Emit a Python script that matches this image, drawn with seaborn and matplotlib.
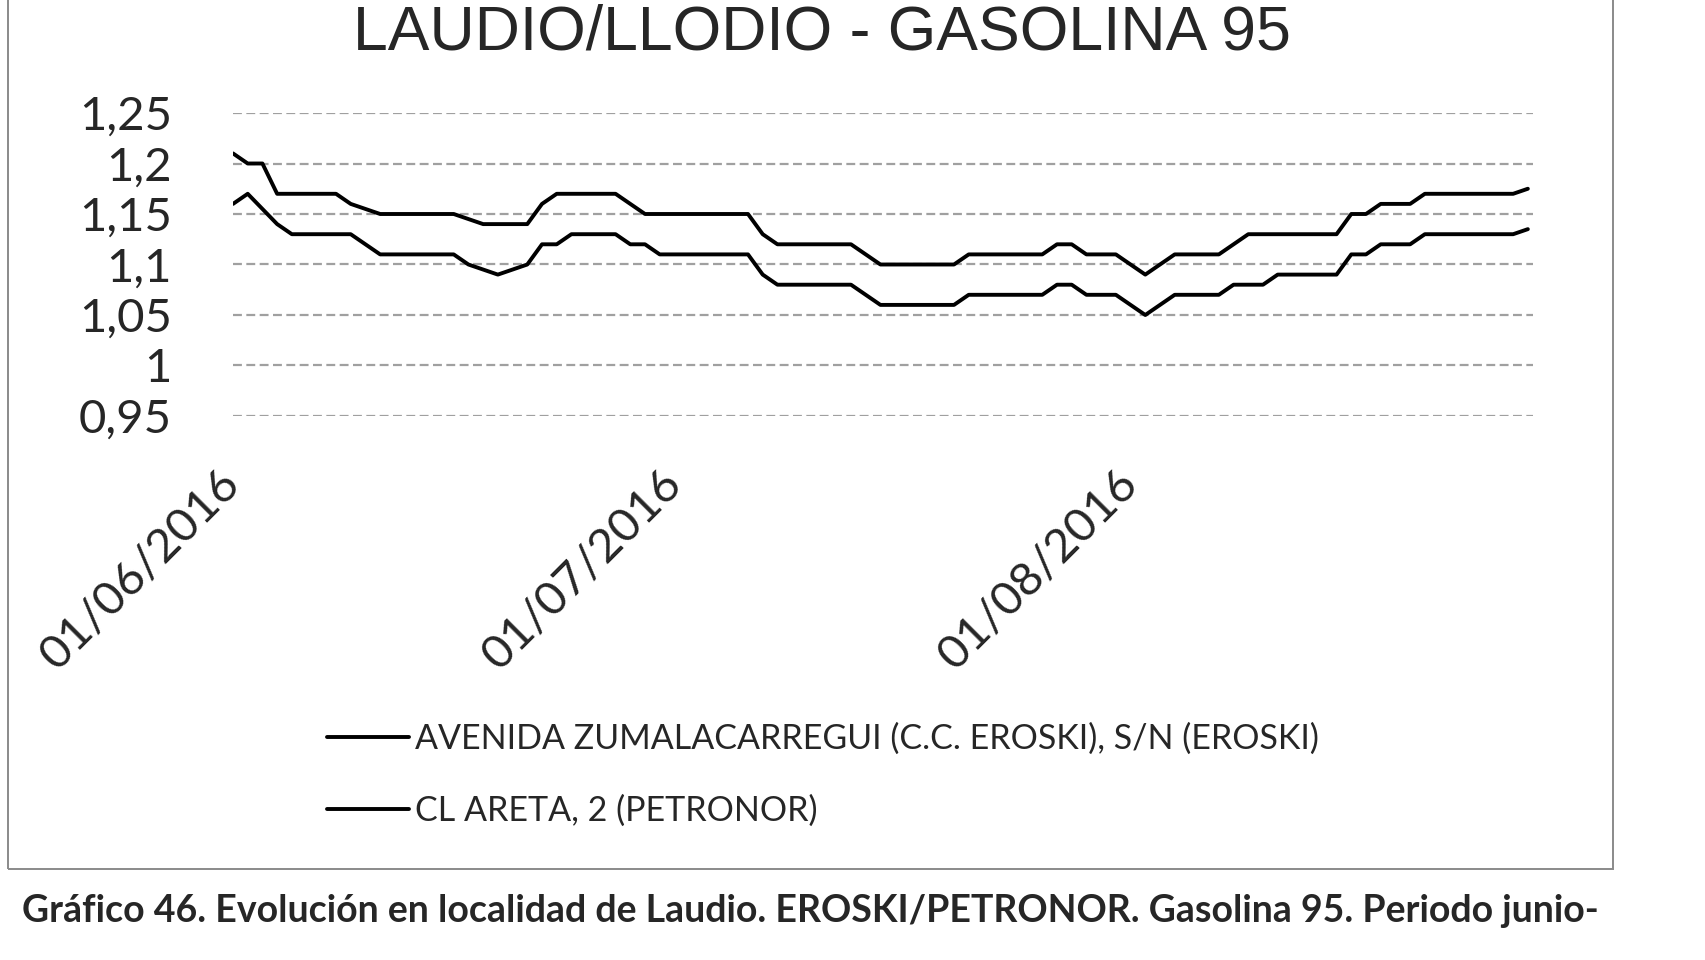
"""Laudio/Llodio - Gasolina 95 price evolution, June-August 2016."""

import matplotlib

matplotlib.use("Agg")
import matplotlib.pyplot as plt
import matplotlib.dates as mdates
import pandas as pd
import seaborn as sns
from matplotlib.patches import Rectangle

TITLE = "LAUDIO/LLODIO - GASOLINA 95"
CAPTION = ("Gráfico 46. Evolución en localidad de Laudio. EROSKI/PETRONOR. "
           "Gasolina 95. Periodo junio-")
SERIES_EROSKI = "AVENIDA ZUMALACARREGUI (C.C. EROSKI), S/N (EROSKI)"
SERIES_PETRONOR = "CL ARETA, 2 (PETRONOR)"

START_DATE = "2016-06-01"

# daily prices (1 Jun .. 28 Aug 2016)
PETRONOR_PRICES = [
    1.21, 1.20, 1.20, 1.17, 1.17, 1.17, 1.17, 1.17, 1.16, 1.155,
    1.15, 1.15, 1.15, 1.15, 1.15, 1.15, 1.145, 1.14, 1.14, 1.14,
    1.14, 1.16, 1.17, 1.17, 1.17, 1.17, 1.17, 1.16, 1.15, 1.15,
    1.15, 1.15, 1.15, 1.15, 1.15, 1.15, 1.13, 1.12, 1.12, 1.12,
    1.12, 1.12, 1.12, 1.11, 1.10, 1.10, 1.10, 1.10, 1.10, 1.10,
    1.11, 1.11, 1.11, 1.11, 1.11, 1.11, 1.12, 1.12, 1.11, 1.11,
    1.11, 1.10, 1.09, 1.10, 1.11, 1.11, 1.11, 1.11, 1.12, 1.13,
    1.13, 1.13, 1.13, 1.13, 1.13, 1.13, 1.15, 1.15, 1.16, 1.16,
    1.16, 1.17, 1.17, 1.17, 1.17, 1.17, 1.17, 1.17, 1.175,
]
EROSKI_PRICES = [
    1.16, 1.17, 1.155, 1.14, 1.13, 1.13, 1.13, 1.13, 1.13, 1.12,
    1.11, 1.11, 1.11, 1.11, 1.11, 1.11, 1.10, 1.095, 1.09, 1.095,
    1.10, 1.12, 1.12, 1.13, 1.13, 1.13, 1.13, 1.12, 1.12, 1.11,
    1.11, 1.11, 1.11, 1.11, 1.11, 1.11, 1.09, 1.08, 1.08, 1.08,
    1.08, 1.08, 1.08, 1.07, 1.06, 1.06, 1.06, 1.06, 1.06, 1.06,
    1.07, 1.07, 1.07, 1.07, 1.07, 1.07, 1.08, 1.08, 1.07, 1.07,
    1.07, 1.06, 1.05, 1.06, 1.07, 1.07, 1.07, 1.07, 1.08, 1.08,
    1.08, 1.09, 1.09, 1.09, 1.09, 1.09, 1.11, 1.11, 1.12, 1.12,
    1.12, 1.13, 1.13, 1.13, 1.13, 1.13, 1.13, 1.13, 1.135,
]

Y_TICKS = [0.95, 1.0, 1.05, 1.1, 1.15, 1.2, 1.25]
Y_TICK_LABELS = ["0,95", "1", "1,05", "1,1", "1,15", "1,2", "1,25"]
X_TICK_DATES = ["2016-06-01", "2016-07-01", "2016-08-01"]
X_TICK_LABELS = ["01/06/2016", "01/07/2016", "01/08/2016"]

W, H = 1706, 960

dates = pd.date_range(START_DATE, periods=len(EROSKI_PRICES), freq="D")
df = pd.DataFrame({"fecha": dates, "eroski": EROSKI_PRICES, "petronor": PETRONOR_PRICES})

sns.set_theme(style="white")
plt.rcParams["font.family"] = ["Lato", "DejaVu Sans"]

fig = plt.figure(figsize=(W / 100, H / 100), dpi=100)
ax = fig.add_axes([233 / W, 1 - 416 / H, 1300 / W, 303 / H])

sns.lineplot(data=df, x="fecha", y="eroski", ax=ax, color="black", linewidth=2.8,
             label=SERIES_EROSKI)
sns.lineplot(data=df, x="fecha", y="petronor", ax=ax, color="black", linewidth=2.8,
             label=SERIES_PETRONOR)

ax.set_ylim(0.95, 1.25)
ax.set_xlim(dates[0], dates[0] + pd.Timedelta(days=88.35))
ax.set_yticks(Y_TICKS)
ax.set_yticklabels(Y_TICK_LABELS)
ax.set_xticks(mdates.date2num(pd.to_datetime(X_TICK_DATES)))
ax.set_xticklabels(X_TICK_LABELS)
ax.set_xlabel("")
ax.set_ylabel("")

for v in Y_TICKS:
    ax.axhline(v, color="#a0a0a0", linewidth=1.6, linestyle=(0, (4, 2)), zorder=0)

for side in ax.spines.values():
    side.set_visible(False)

ax.tick_params(axis="y", length=0, pad=44, labelsize=34)
ax.tick_params(axis="x", length=0, pad=44, labelsize=34)
for lab in ax.get_xticklabels():
    lab.set_rotation(45)
    lab.set_ha("right")
    lab.set_va("center")
    lab.set_rotation_mode("anchor")

ax.legend(loc="upper left", bbox_to_anchor=(327 / W, 1 - 723 / H),
          bbox_transform=fig.transFigure, frameon=False, fontsize=24.5,
          handlelength=2.4, handletextpad=0.2, labelspacing=1.15,
          borderpad=0, borderaxespad=0)

# the scanned original crops the title's top; keep it just inside the frame
fig.text(822 / W, 1 - 49 / H, TITLE, ha="center", va="baseline", fontsize=45,
         family=["Liberation Sans", "DejaVu Sans"])

fig.text(22 / W, 1 - 922 / H, CAPTION, ha="left", va="baseline", fontsize=27,
         fontweight="bold")

fig.patches.append(Rectangle((8 / W, 1 - 869 / H), (1613 - 8) / W, 869 / H + 0.05,
                             transform=fig.transFigure, fill=False,
                             edgecolor="#8a8a8a", linewidth=1.4))

fig.savefig("out.png", dpi=100, facecolor="white")
